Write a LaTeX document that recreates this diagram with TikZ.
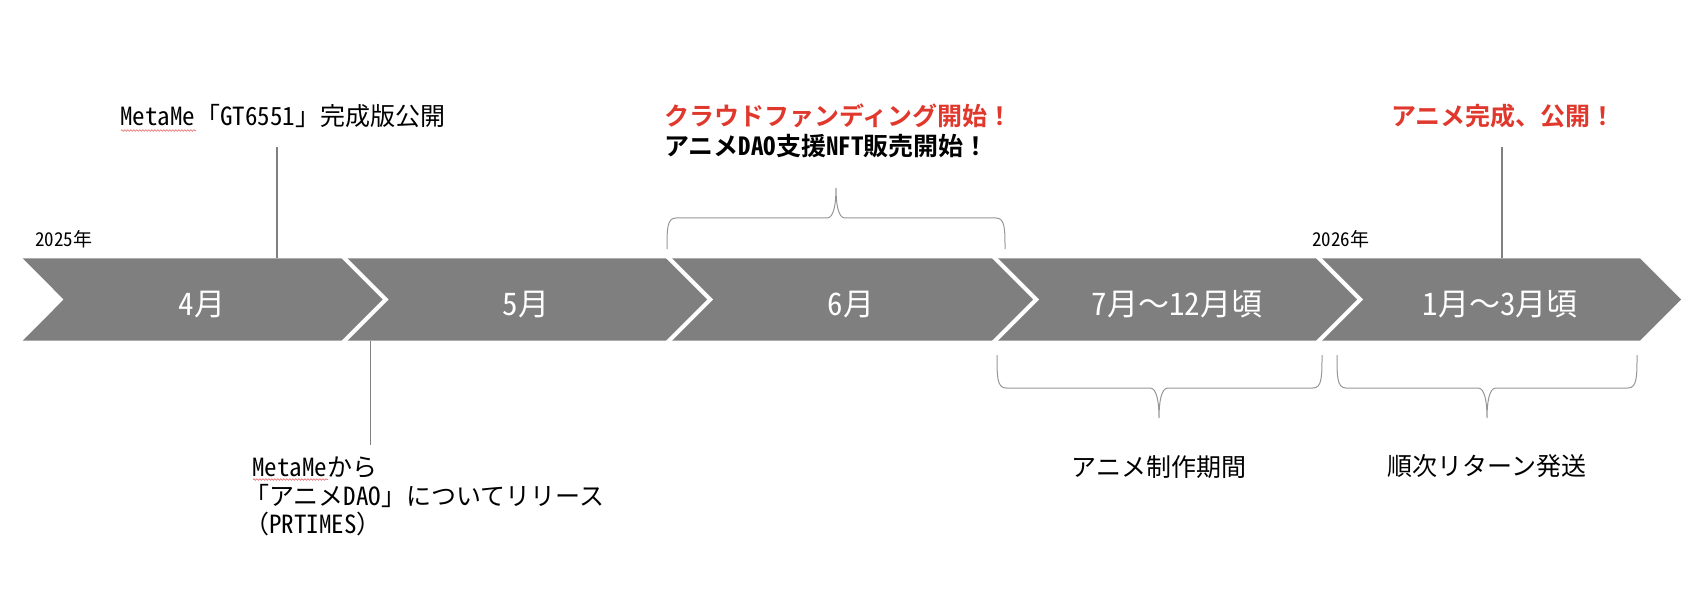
\documentclass[tikz,border=0pt]{standalone}
\usepackage{fontspec}
\setmainfont{Noto Sans CJK JP}[BoldFont={* Bold},RawFeature=+hwid]
\newfontfamily\fw{Noto Sans CJK JP}[BoldFont={* Bold}]
\usetikzlibrary{decorations.pathmorphing}
\definecolor{chev}{RGB}{127,127,127}
\definecolor{linegray}{RGB}{128,128,128}
\definecolor{bracegray}{RGB}{150,150,150}
\definecolor{evred}{RGB}{224,56,44}
\definecolor{spellred}{RGB}{235,120,120}
% brace: left x, right x, tip x, end y, middle y, tip y
\newcommand\tlbrace[6]{%
  \draw[bracestyle] ({#1},{#4}) .. controls ({#1},{#5+0.35*(#4-#5)}) and ({#1},{#5}) .. ({#1+9},{#5})
    -- ({#3-9},{#5}) .. controls ({#3-2},{#5}) and ({#3},{#5+0.5*(#6-#5)}) .. ({#3},{#6})
    .. controls ({#3},{#5+0.5*(#6-#5)}) and ({#3+2},{#5}) .. ({#3+9},{#5})
    -- ({#2-9},{#5}) .. controls ({#2},{#5}) and ({#2},{#5+0.35*(#4-#5)}) .. ({#2},{#4});}
\begin{document}
\begin{tikzpicture}[x=1pt,y=-1pt,
  sepline/.style={draw=white, line width=4pt, line join=miter},
  month/.style={text=white, font=\fontsize{31}{37}\selectfont, anchor=base, inner sep=0pt},
  yearlab/.style={font=\fontsize{19}{23}\selectfont, anchor=base west, inner sep=0pt},
  evtext/.style={font=\fontsize{25}{30}\selectfont, anchor=base west, inner sep=0pt},
  evbold/.style={font=\bfseries\fontsize{25}{30}\selectfont, anchor=base west, inner sep=0pt},
  tickline/.style={draw=linegray, line width=1.1pt},
  bracestyle/.style={draw=bracegray, line width=1pt},
  spell/.style={draw=spellred, line width=0.7pt, decorate, decoration={snake, amplitude=0.8pt, segment length=3pt}}
]
\useasboundingbox (0,0) rectangle (1700,604);

% chevron band
\fill[chev] (22.7,258.3) -- (1640,258.3) -- (1681,299.5) -- (1640,340.7)
  -- (22.7,340.7) -- (63.7,299.5) -- cycle;
\foreach \x in {344.5,669,995,1319}
  \draw[sepline] (\x-3,255.3) -- (\x+41.2,299.5) -- (\x-3,343.7);

% month labels
\node[month] (m4) at (202,315) {4月};
\node[month] (m5) at (526,315) {5月};
\node[month] (m6) at (851,315) {6月};
\node[month] (m7) at (1177,315) {7月{\fw 〜}12月頃};
\node[month] (m1) at (1500,315) {1月{\fw 〜}3月頃};

% years
\node[yearlab] (y25) at (35,246.5) {2025年};
\node[yearlab] (y26) at (1312,246.5) {2026年};

% event 1
\node[evtext] (ev1) at (120,126) {MetaMe「GT6551」完成版公開};
\draw[spell] (121,130.5) -- (196,130.5);
\coordinate (t1a) at (277,147);
\coordinate (t1b) at (277,258.3);
\draw[tickline] (t1a) -- (t1b);

% event 2
\coordinate (t2a) at (370.7,340.7);
\coordinate (t2b) at (370.7,445);
\draw[tickline] (t2a) -- (t2b);
\node[evtext] (ev2a) at (252,476) {MetaMeから};
\node[evtext] (ev2b) at (244,505) {「アニメDAO」についてリリース};
\node[evtext] (ev2c) at (244,533) {{\fw （}PRTIMES{\fw ）}};
\draw[spell] (253,479.5) -- (328,479.5);

% event 3
\node[evbold, text=evred] (ev3a) at (664,126) {クラウドファンディング開始{\fw ！}};
\node[evbold] (ev3b) at (664,156) {アニメDAO支援NFT販売開始{\fw ！}};
\tlbrace{667}{1005}{836}{249}{218}{188}

% event 5
\node[evbold, text=evred] (ev5) at (1391,126) {アニメ完成、公開{\fw ！}};
\coordinate (t5a) at (1502,147);
\coordinate (t5b) at (1502,258.3);
\draw[tickline] (t5a) -- (t5b);

% bottom braces
\tlbrace{997}{1322}{1159}{355}{388}{418}
\tlbrace{1337}{1637}{1487}{355}{388}{418}
\node[evtext, anchor=base] (lab1) at (1159,476) {アニメ制作期間};
\node[evtext, anchor=base] (lab2) at (1487,475) {順次リターン発送};
\end{tikzpicture}
\end{document}
